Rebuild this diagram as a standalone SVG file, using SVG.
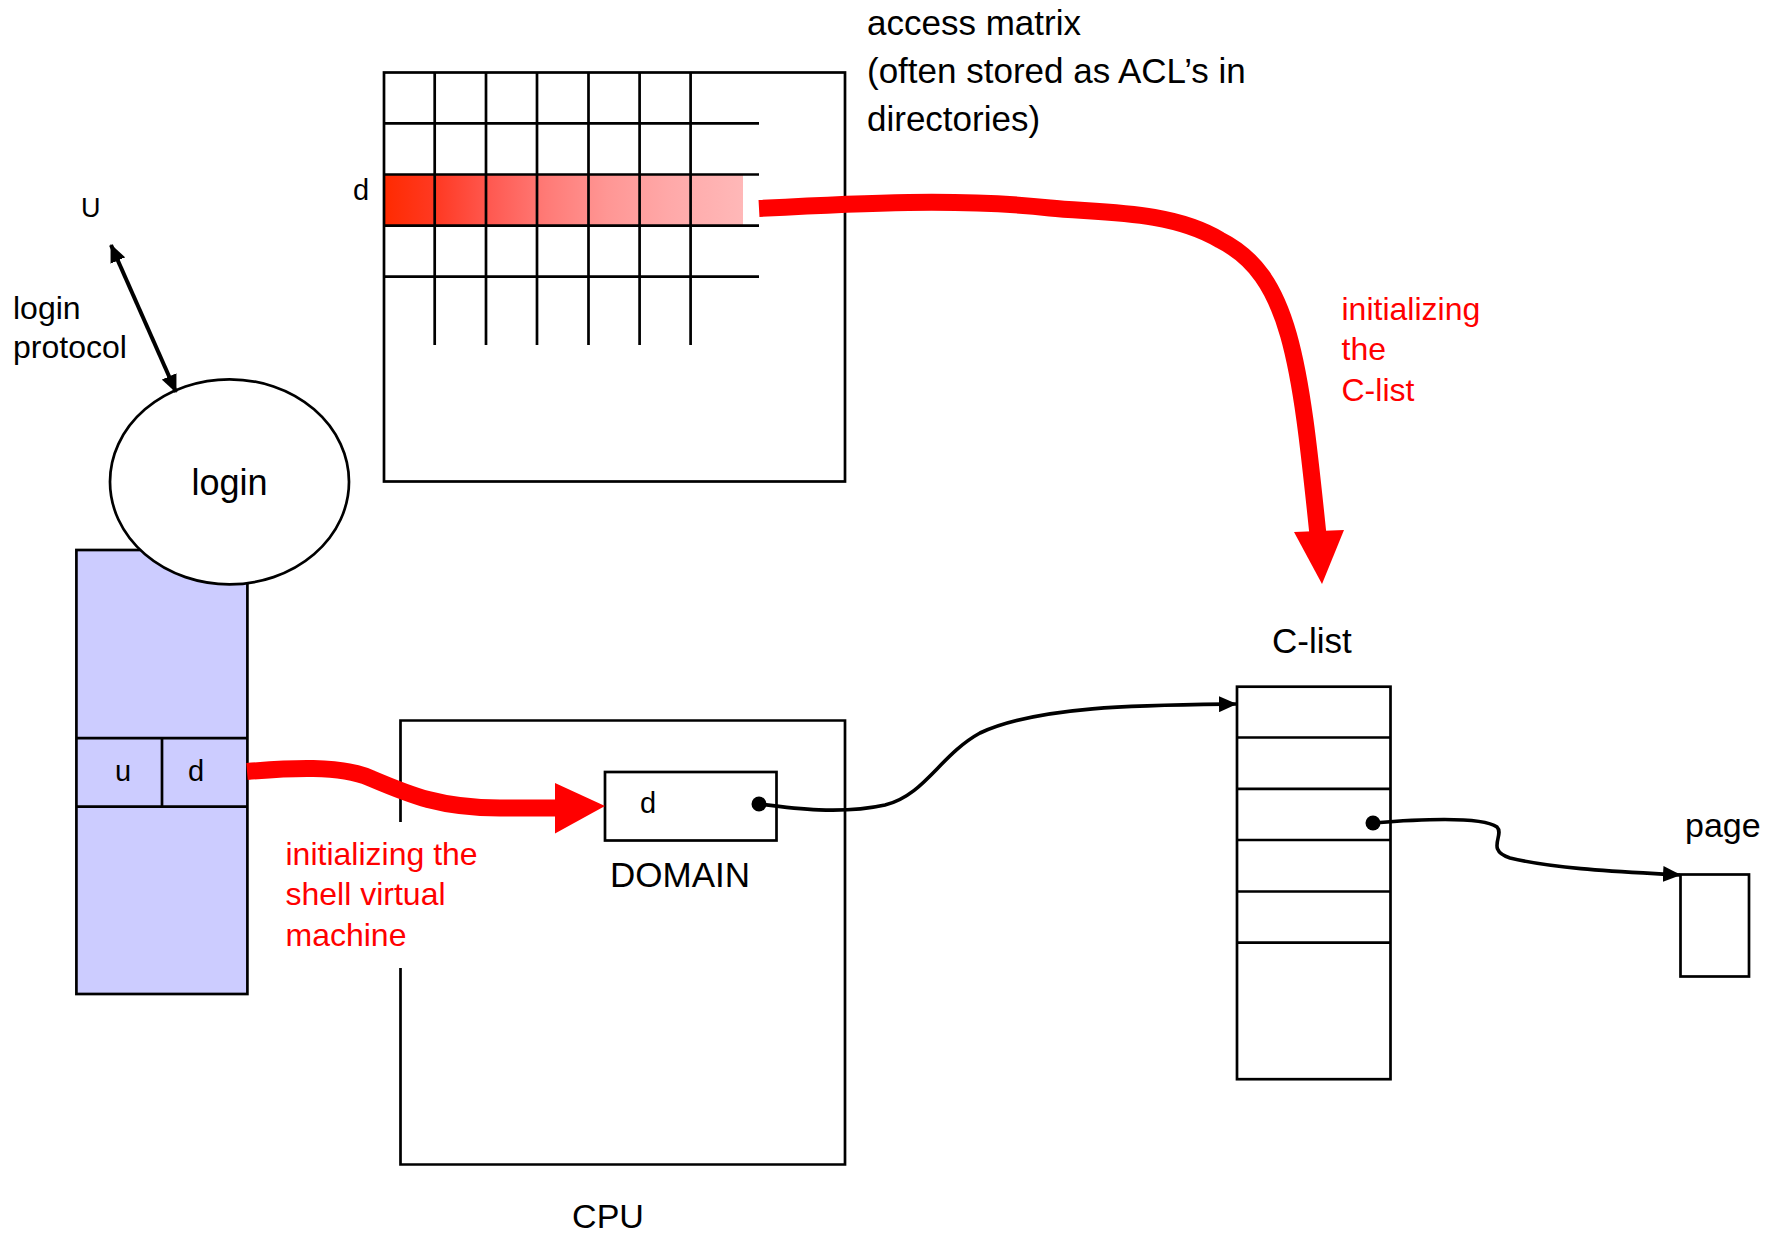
<svg xmlns="http://www.w3.org/2000/svg" width="1775" height="1235" viewBox="0 0 1775 1235">
<style>
.box{fill:none;stroke:#000;stroke-width:2.7}
.wbox{fill:#fff;stroke:#000;stroke-width:2.7}
.grid{stroke:#000;stroke-width:2.7;fill:none}
.t{font-family:"Liberation Sans",Arial,sans-serif;font-size:35px;fill:#000}
.s{font-family:"Liberation Sans",Arial,sans-serif;font-size:29px;fill:#000}
.r{font-family:"Liberation Sans",Arial,sans-serif;font-size:32px;fill:#ff0000}
.red{fill:none;stroke:#ff0000;stroke-width:17}
.blk{fill:none;stroke:#000;stroke-width:3.6}
</style>
<defs>
<linearGradient id="rowgrad" x1="384" y1="0" x2="743" y2="0" gradientUnits="userSpaceOnUse">
<stop offset="0" stop-color="#ff2a00"/>
<stop offset="0.15" stop-color="#ff3a24"/>
<stop offset="0.3" stop-color="#ff5a52"/>
<stop offset="0.45" stop-color="#ff7a76"/>
<stop offset="0.62" stop-color="#ff9694"/>
<stop offset="0.8" stop-color="#ffa9a9"/>
<stop offset="1" stop-color="#ffb8b8"/>
</linearGradient>
<marker id="ah" markerUnits="userSpaceOnUse" markerWidth="18" markerHeight="16" refX="17" refY="8" orient="auto-start-reverse">
<path d="M0,0 L18,8 L0,16 z" fill="#000"/>
</marker>
</defs>
<rect width="1775" height="1235" fill="#fff"/>

<g id="access-matrix">
<rect x="384" y="175" width="359" height="51" fill="url(#rowgrad)"/>
<rect class="box" x="384" y="72.5" width="461" height="409"/>
<path class="grid" d="M384 123.4H759M384 174.5H759M384 225.7H759M384 276.7H759"/>
<path class="grid" d="M434.7 72.5V345M486 72.5V345M537 72.5V345M588.5 72.5V345M639.6 72.5V345M690.6 72.5V345"/>
<text class="s" x="353" y="200">d</text>
<text class="t" x="867" y="35">access matrix</text>
<text class="t" x="867" y="83">(often stored as ACL’s in</text>
<text class="t" x="867" y="131">directories)</text>
</g>

<g id="user">
<text class="t" x="81" y="217" style="font-size:27px">U</text>
</g>

<g id="login-protocol-label">
<text class="r" x="13" y="319" style="fill:#000">login</text>
<text class="r" x="13" y="358" style="fill:#000">protocol</text>
</g>

<g id="stack">
<rect x="76.4" y="550" width="171" height="444" fill="#ccccff" stroke="#000" stroke-width="2.7"/>
<path class="grid" d="M76.4 738.2H247.4M76.4 806.6H247.4M162 738.2V806.6"/>
<text class="s" x="115" y="781">u</text>
<text class="s" x="188" y="781">d</text>
</g>

<g id="login">
<ellipse class="wbox" cx="229.5" cy="481.8" rx="119.5" ry="102.5"/>
<text class="t" x="229.5" y="495" text-anchor="middle" style="font-size:36px">login</text>
</g>

<g id="cpu">
<path class="box" d="M400.5 822V720.5H845V1164.5H400.5V968"/>
<text class="t" x="608" y="1228" text-anchor="middle" style="font-size:34px">CPU</text>
</g>

<g id="domain">
<rect class="wbox" x="605" y="772" width="171.5" height="68.5"/>
<text class="s" x="640" y="813">d</text>
<text class="t" x="680" y="887" text-anchor="middle">DOMAIN</text>
</g>

<g id="shell-label">
<text class="r" x="285.5" y="865">initializing the</text>
<text class="r" x="285.5" y="905">shell virtual</text>
<text class="r" x="285.5" y="946">machine</text>
</g>

<g id="c-list">
<rect class="box" x="1237" y="686.7" width="153.5" height="392.5"/>
<path class="grid" d="M1237 737.5H1390.5M1237 788.8H1390.5M1237 840H1390.5M1237 891.5H1390.5M1237 942.7H1390.5"/>
<text class="t" x="1272" y="653">C-list</text>
</g>

<g id="page">
<rect class="box" x="1680.5" y="874.5" width="68.5" height="102"/>
<text class="t" x="1685" y="837" style="font-size:34px">page</text>
</g>

<g id="clist-label">
<text class="r" x="1341.5" y="320">initializing</text>
<text class="r" x="1341.5" y="360">the</text>
<text class="r" x="1341.5" y="401">C-list</text>
</g>

<g id="connectors">
<path class="red" d="M759 208.5 C860 203 960 198 1050 208 C1100 213 1170 210 1220 240 C1290 275 1300 360 1318 535"/>
<polygon points="1294,532 1344,530 1322,584" fill="#ff0000"/>
<path class="red" d="M247 771.5 C290 768 340 765 370 778 C410 795 440 808 500 808 L557 808"/>
<polygon points="555,783 555,833.5 605,806" fill="#ff0000"/>
<line x1="111" y1="245" x2="176" y2="392" stroke="#000" stroke-width="4" marker-start="url(#ah)" marker-end="url(#ah)"/>
<circle cx="759" cy="804" r="7.5" fill="#000"/>
<path class="blk" d="M759 804 C790 808 840 815 885 805 C925 795 940 755 980 733 C1040 705 1150 705 1236 704" marker-end="url(#ah)"/>
<circle cx="1373" cy="823" r="7.5" fill="#000"/>
<path class="blk" d="M1373 823 C1410 820 1480 815 1497 827 C1505 835 1485 850 1510 858 C1560 870 1630 872 1680 875" marker-end="url(#ah)"/>
</g>
</svg>
